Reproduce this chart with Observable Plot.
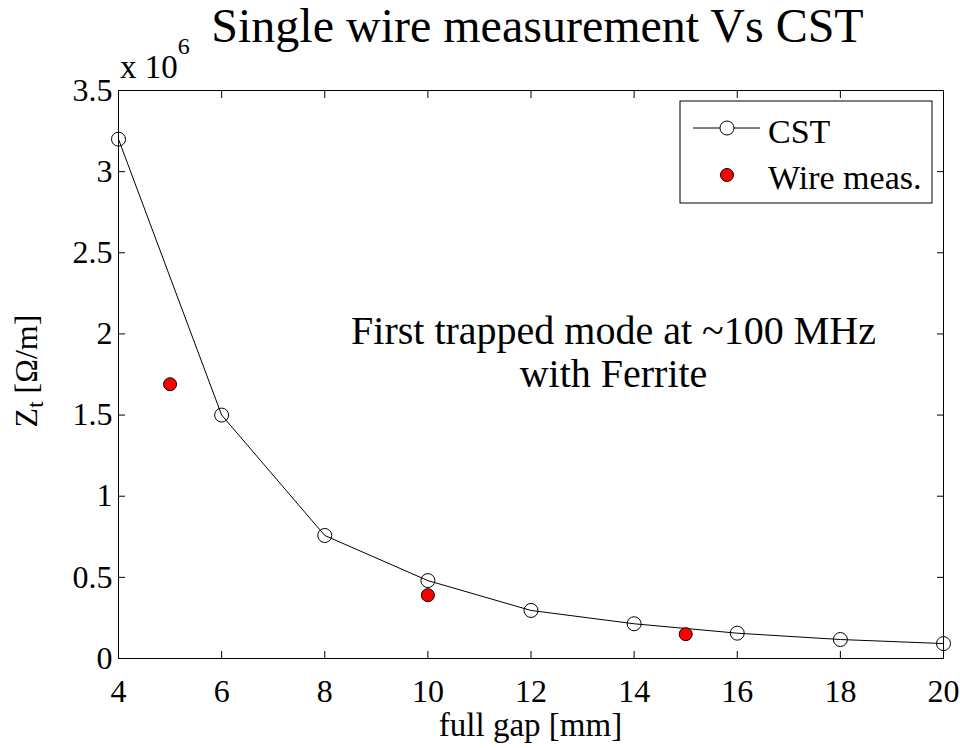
<!DOCTYPE html>
<html><head><meta charset="utf-8">
<script src="https://cdn.jsdelivr.net/npm/d3@7"></script>
<script src="https://cdn.jsdelivr.net/npm/@observablehq/plot@0.6"></script>
<style>
body{margin:0;background:#fff}
svg, svg text{font-family:"Liberation Serif","Times New Roman",serif !important}
</style>
</head><body><div id="chart"></div>
<script>
// CST simulation
const cstGap = [4, 6, 8, 10, 12, 14, 16, 18, 20];
const cstZ = [3.20e6, 1.50e6, 0.758e6, 0.48e6, 0.296e6, 0.214e6, 0.156e6, 0.117e6, 0.092e6];
// Wire measurement
const wireGap = [5, 10, 15];
const wireZ = [1.69e6, 0.39e6, 0.15e6];
// ticks
const xTicks = [4, 6, 8, 10, 12, 14, 16, 18, 20];
const yTicks = [0, 0.5e6, 1e6, 1.5e6, 2e6, 2.5e6, 3e6, 3.5e6];
// texts
const titleText = "Single wire measurement Vs CST";
const xLabel = "full gap [mm]";
const annotationLines = ["First trapped mode at ~100 MHz", "with Ferrite"];
const annotationPos = {gap: 13.6, z: 1.893e6};
const seriesNames = ["CST", "Wire meas."];

const cst = cstGap.map((g, i) => ({gap: g, z: cstZ[i]}));
const wire = wireGap.map((g, i) => ({gap: g, z: wireZ[i]}));

const plot = Plot.plot({
  width: 960, height: 748,
  marginLeft: 118, marginRight: 17, marginTop: 90, marginBottom: 90,
  style: {background: "#fff", fontSize: "32px", overflow: "visible", color: "black"},
  x: {domain: [4, 20]},
  y: {domain: [0, 3.5e6]},
  marks: [
    Plot.frame({stroke: "black", strokeWidth: 1}),
    Plot.axisX(xTicks, {anchor: "bottom", tickSize: -7, tickPadding: 28, label: null, fontSize: 32}),
    Plot.axisX(xTicks, {anchor: "top", tickSize: -7, tickFormat: () => "", label: null}),
    Plot.axisY(yTicks, {anchor: "left", tickSize: -7, tickPadding: 13, tickFormat: d => String(d / 1e6), label: null, fontSize: 32}),
    Plot.axisY(yTicks, {anchor: "right", tickSize: -7, tickFormat: () => "", label: null}),
    Plot.line(cst, {x: "gap", y: "z", stroke: "black", strokeWidth: 1}),
    Plot.dot(cst, {x: "gap", y: "z", r: 7, stroke: "black", fill: "none", strokeWidth: 1}),
    Plot.dot(wire, {x: "gap", y: "z", r: 6.5, fill: "red", stroke: "black", strokeWidth: 1}),
    Plot.text([annotationPos], {x: "gap", y: "z", text: () => annotationLines.join("\n"), fontSize: 40, lineHeight: 1.08, fill: "black"})
  ]
});
document.getElementById("chart").appendChild(plot);

const svg = d3.select(plot);
svg.style("font-family", '"Liberation Serif", serif');
const sx = plot.scale("x"), sy = plot.scale("y");
const pLeft = sx.apply(4), pRight = sx.apply(20), pTop = sy.apply(3.5e6), pBottom = sy.apply(0);

svg.append("text").attr("x", (pLeft + pRight) / 2 + 7).attr("y", 42)
  .attr("text-anchor", "middle").attr("font-size", 48).attr("fill", "black").text(titleText);
svg.append("text").attr("x", (pLeft + pRight) / 2).attr("y", 736)
  .attr("text-anchor", "middle").attr("font-size", 33).attr("fill", "black").text(xLabel);

// y label
const yl = svg.append("text").attr("transform", `translate(37,${(pTop + pBottom) / 2 - 3}) rotate(-90)`)
  .attr("text-anchor", "middle").attr("font-size", 32).attr("fill", "black");
yl.append("tspan").text("Z");
yl.append("tspan").attr("font-size", 23).attr("dy", 6).text("t");
yl.append("tspan").attr("dy", -6).text(" [Ω/m]");

// exponent
const ex = svg.append("text").attr("x", pLeft + 2).attr("y", 78).attr("font-size", 33)
  .attr("text-anchor", "start").attr("fill", "black");
ex.append("tspan").text("x 10");
ex.append("tspan").attr("font-size", 24).attr("dy", -24).text("6");

// legend
const lg = svg.append("g");
lg.append("rect").attr("x", 680).attr("y", 101).attr("width", 252).attr("height", 102)
  .attr("fill", "white").attr("stroke", "black").attr("stroke-width", 1);
lg.append("line").attr("x1", 693).attr("x2", 760).attr("y1", 128).attr("y2", 128).attr("stroke", "black");
lg.append("circle").attr("cx", 727).attr("cy", 128).attr("r", 7).attr("fill", "white").attr("stroke", "black");
lg.append("circle").attr("cx", 727).attr("cy", 175).attr("r", 6.5).attr("fill", "red").attr("stroke", "black");
lg.append("text").attr("x", 768).attr("y", 143).attr("font-size", 34).attr("text-anchor", "start").attr("fill", "black").text(seriesNames[0]);
lg.append("text").attr("x", 768).attr("y", 189).attr("font-size", 34).attr("text-anchor", "start").attr("fill", "black").text(seriesNames[1]);
</script>
</body></html>
